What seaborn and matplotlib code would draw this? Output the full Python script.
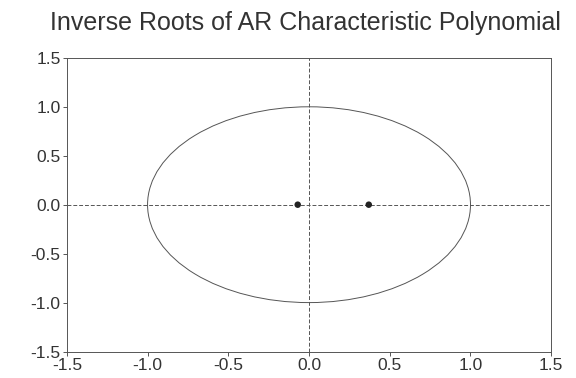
import numpy as np
import pandas as pd
import seaborn as sns
import matplotlib
matplotlib.use("Agg")
from matplotlib import pyplot as plt
from matplotlib.patches import Circle

# inverse AR roots
root_re = [-0.07, 0.37]
root_im = [0.0, 0.0]
ticks = [-1.5, -1.0, -0.5, 0.0, 0.5, 1.0, 1.5]

sns.set_theme(style="white")
plt.rcParams['font.family'] = ['Liberation Sans', 'DejaVu Sans']

fig = plt.figure(figsize=(5.76, 3.78), dpi=100)
ax = fig.add_axes([0.116, 0.07, 0.841, 0.777])

df = pd.DataFrame({"re": root_re, "im": root_im})

# unit circle and zero axes
ax.add_patch(Circle((0, 0), 1.0, fill=False, color="#555555", lw=0.7))
ax.axhline(0, color="#555555", lw=0.7, ls=(0, (4, 2)))
ax.axvline(0, color="#555555", lw=0.7, ls=(0, (4, 2)))

sns.scatterplot(x="re", y="im", data=df, ax=ax, color="#222222",
                s=22, edgecolor="none", zorder=3)

ax.set_xlim(-1.5, 1.5)
ax.set_ylim(-1.5, 1.5)
ax.set_xticks(ticks)
ax.set_yticks(ticks)
ax.set_xticklabels([f"{t:.1f}" for t in ticks])
ax.set_yticklabels([f"{t:.1f}" for t in ticks])
ax.set_xlabel("")
ax.set_ylabel("")
ax.tick_params(axis="both", which="both", direction="out", length=3,
               width=0.7, color="#555555", labelsize=12.5, labelcolor="#333333",
               bottom=True, left=True, pad=1.5)
for s in ax.spines.values():
    s.set_color("#555555")
    s.set_linewidth(0.7)

fig.text(0.53, 0.94, "Inverse Roots of AR Characteristic Polynomial",
         ha="center", va="center", fontsize=18, color="#333333")

fig.savefig("out.png", dpi=100)
